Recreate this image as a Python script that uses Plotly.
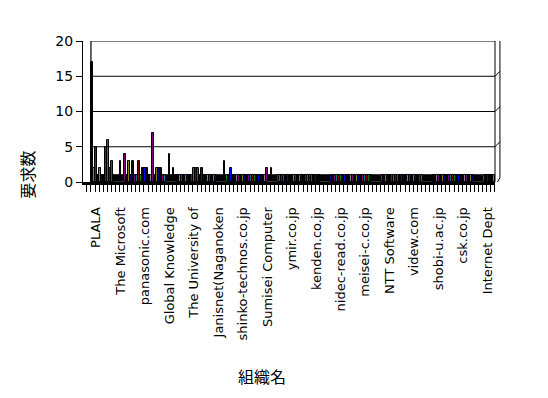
import plotly.graph_objects as go

# Requests per organisation (one bar per organisation, in listed order)
requests = [
    17, 2, 5, 1, 2, 1, 1, 5, 6, 2, 3, 1, 1, 1, 3, 1, 4, 1, 3, 1,
    3, 1, 1, 3, 1, 2, 2, 2, 1, 1, 7, 1, 2, 2, 2, 1, 1, 1, 4, 1,
    2, 1, 1, 1, 1, 1, 1, 1, 1, 1, 2, 2, 2, 1, 2, 1, 1, 1, 1, 1,
    1, 1, 1, 1, 1, 3, 1, 1, 2, 1, 1, 1, 1, 1, 1, 1, 1, 1, 1, 1,
    1, 1, 1, 1, 1, 1, 2, 1, 2, 1, 1, 1, 1, 1, 1, 1, 1, 1, 1, 1,
    1, 1, 1, 1, 1, 1, 1, 1, 1, 1, 1, 1, 1, 1, 1, 1, 1, 1, 1, 1,
    1, 1, 1, 1, 1, 1, 1, 1, 1, 1, 1, 1, 1, 1, 1, 1, 1, 1, 1, 1,
    1, 1, 1, 1, 1, 1, 1, 1, 1, 1, 1, 1, 1, 1, 1, 1, 1, 1, 1, 1,
    1, 1, 1, 1, 1, 1, 1, 1, 1, 1, 1, 1, 1, 1, 1, 1, 1, 1, 1, 1,
    1, 1, 1, 1, 1, 1, 1, 1, 1, 1, 1, 1, 1, 1, 1, 1, 1, 1,
]

# Organisation names shown on the category axis (every 12th organisation)
label_names = [
    "PLALA", "The Microsoft", "panasonic.com", "Global Knowledge",
    "The University of", "Janisnet(Naganoken", "shinko-technos.co.jp",
    "Sumisei Computer", "ymir.co.jp", "kenden.co.jp", "nidec-read.co.jp",
    "meisei-c.co.jp", "NTT Software", "videw.com", "shobi-u.ac.jp",
    "csk.co.jp", "Internet Dept",
]
label_step = 12

y_ticks = [0, 5, 10, 15, 20]

# Varied point colours
palette = ["#000000", "#808080", "#800080", "#000000", "#808000", "#000080",
           "#000000", "#800080", "#008080", "#800000", "#008000", "#000000",
           "#0000ff", "#000000"]

n = len(requests)
xs = list(range(n))
colors = [palette[i % len(palette)] for i in xs]

fig = go.Figure()
fig.add_trace(go.Bar(
    x=xs, y=requests,
    marker=dict(color=colors, line=dict(color="black", width=1.0)),
    width=0.9,
    showlegend=False,
    hoverinfo="x+y",
))

# labels sit a little right of their bar because of the chart depth
label_shift = 2
tickvals = [i * label_step + label_shift for i in range(len(label_names))]

x_lo, x_hi = -4.4, n - 0.4
depth_x = 0.012   # depth offset of the back frame, paper units
depth_y = 0.7     # depth offset of the back frame, y units

shapes = []
# gridlines on the back wall
for v in y_ticks[1:]:
    shapes.append(dict(type="line", xref="x", yref="y", x0=-0.5, x1=x_hi,
                       y0=v, y1=v, line=dict(color="black", width=1.2)))
    shapes.append(dict(type="line", xref="paper", yref="y", x0=1, x1=1 + depth_x,
                       y0=v, y1=v + depth_y, line=dict(color="black", width=1)))
# back wall outline
shapes += [
    dict(type="line", xref="x", yref="y", x0=-0.5, x1=-0.5, y0=0, y1=20,
         line=dict(color="black", width=1.2)),
    dict(type="line", xref="paper", yref="y", x0=0, x1=0.022, y0=20, y1=20 + depth_y + 0.15,
         line=dict(color="black", width=1)),
    dict(type="line", xref="paper", yref="y", x0=0.022, x1=1 + depth_x,
         y0=20 + depth_y + 0.15, y1=20 + depth_y + 0.15, line=dict(color="black", width=1.2)),
    dict(type="line", xref="paper", yref="y", x0=1, x1=1, y0=0, y1=20,
         line=dict(color="black", width=1)),
    dict(type="line", xref="paper", yref="y", x0=1 + depth_x, x1=1 + depth_x,
         y0=0.6, y1=20 + depth_y + 0.15, line=dict(color="black", width=1)),
    dict(type="line", xref="paper", yref="y", x0=1, x1=1 + depth_x,
         y0=-0.6, y1=0.6, line=dict(color="black", width=1)),
]

fig.update_layout(
    width=548, height=398,
    margin=dict(l=83, r=53, t=41, b=216),
    paper_bgcolor="white", plot_bgcolor="white",
    bargap=0,
    font=dict(family="DejaVu Sans", color="black"),
    shapes=shapes,
    xaxis=dict(
        range=[x_lo, x_hi],
        tickmode="array", tickvals=tickvals, ticktext=label_names,
        tickangle=-90,
        ticks="outside", ticklen=17, tickcolor="rgba(0,0,0,0)",
        tickfont=dict(family="DejaVu Sans", size=13, color="black"),
        showgrid=False, zeroline=False,
        showline=True, linecolor="black", linewidth=3,
        minor=dict(tickmode="linear", tick0=-0.5, dtick=2, ticks="outside",
                   ticklen=7, tickcolor="black", tickwidth=1, showgrid=False),
    ),
    yaxis=dict(
        range=[0, 20],
        tickmode="array", tickvals=y_ticks,
        ticks="outside", ticklen=6, tickcolor="black",
        tickfont=dict(family="DejaVu Sans", size=14, color="black"),
        showgrid=False, zeroline=False,
        showline=True, linecolor="black", linewidth=1.2,
    ),
    annotations=[
        dict(text="要求数", xref="paper", yref="paper", x=-0.135, y=0.055,
             xanchor="center", yanchor="middle", textangle=-90, showarrow=False,
             font=dict(family="Noto Sans CJK JP", size=16, color="black")),
        dict(text="組織名", xref="paper", yref="paper", x=0.434, y=-1.376,
             xanchor="center", yanchor="middle", showarrow=False,
             font=dict(family="Noto Sans CJK JP", size=16, color="black")),
    ],
)

fig.write_html("out.html")
